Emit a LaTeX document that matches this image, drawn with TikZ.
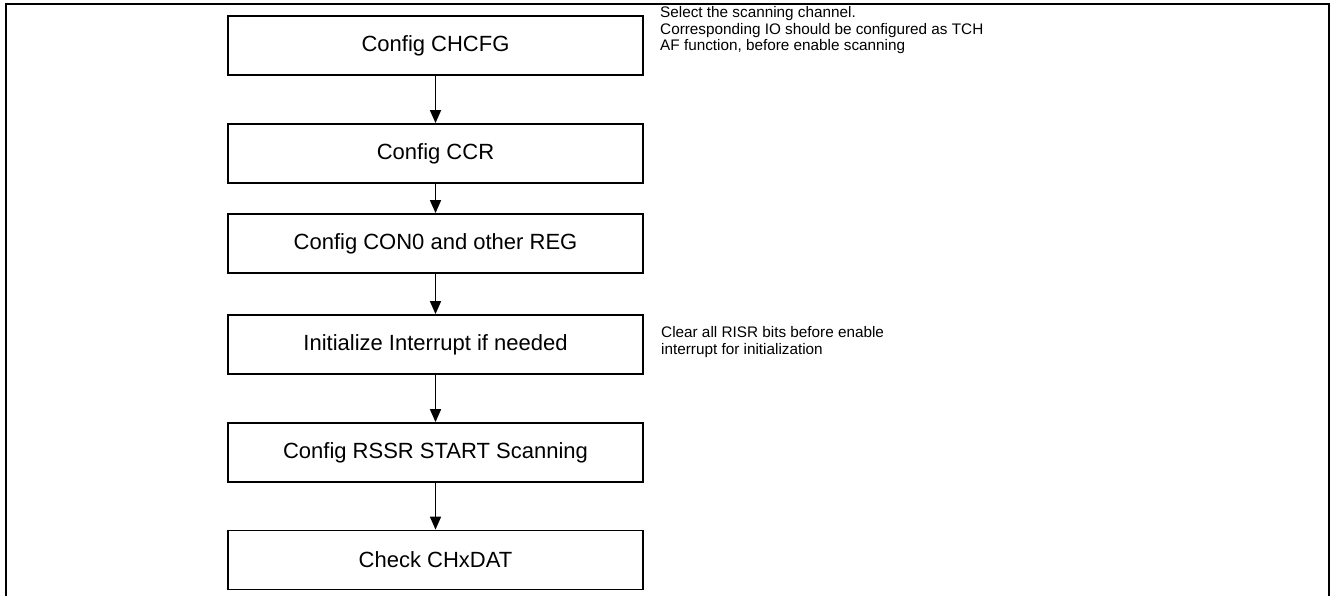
\documentclass[tikz,border=0pt]{standalone}
\usepackage{fontspec}
\setmainfont{Liberation Sans}
\usetikzlibrary{arrows.meta}
\begin{document}
\begin{tikzpicture}[x=1pt,y=-1pt,
  stepbox/.style={draw=black,line width=1.8pt,minimum width=415pt,minimum height=59pt,inner sep=0pt,font=\fontsize{22}{26}\selectfont},
  flow/.style={line width=1.6pt,-{Triangle[length=13pt,width=11pt]}},
  note/.style={anchor=north west,align=left,inner sep=0pt,font=\fontsize{15.3}{16.5}\selectfont},
  frame/.style={line width=2.8pt}]
\useasboundingbox (0,0) rectangle (1332,596);
\draw[frame] (6,600) -- (6,4) -- (1329,4) -- (1329,600);
\node[stepbox] (b1) at (435.5,45.5) {Config CHCFG};
\node[stepbox] (b2) at (435.5,153.5) {Config CCR};
\node[stepbox] (b3) at (435.5,243.5) {Config CON0 and other REG};
\node[stepbox] (b4) at (435.5,344.5) {Initialize Interrupt if needed};
\node[stepbox] (b5) at (435.5,452.5) {Config RSSR START Scanning};
\node[stepbox] (b6) at (435.5,560) {Check CHxDAT};
\draw[flow] (b1) -- (b2);
\draw[flow] (b2) -- (b3);
\draw[flow] (b3) -- (b4);
\draw[flow] (b4) -- (b5);
\draw[flow] (b5) -- (b6);
\node[note] (n1) at (660,6.5) {Select the scanning channel.\\Corresponding IO should be configured as TCH\\AF function, before enable scanning};
\node[note] (n2) at (661,326.5) {Clear all RISR bits before enable\\interrupt for initialization};
\end{tikzpicture}
\end{document}
